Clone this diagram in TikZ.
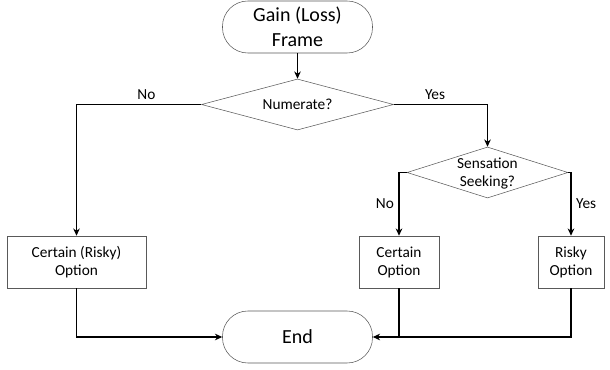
\documentclass[tikz,border=0pt]{standalone}
\usepackage{fontspec}
\setmainfont{Carlito}
\usetikzlibrary{shapes.geometric}
\usetikzlibrary{arrows.meta}

\begin{document}
\begin{tikzpicture}[x=0.75pt,y=-0.75pt,
  every node/.style={font=\fontsize{11.5}{13.5}\selectfont},
  term/.style={draw=black!65,rectangle,rounded corners=19pt,minimum width=112.5pt,minimum height=39pt,align=center,font=\fontsize{15}{18.5}\selectfont},
  decision/.style={draw=black!65,diamond,inner sep=0pt,minimum width=#1,minimum height=38.25pt},
  option/.style={draw=black!65,rectangle,minimum height=39pt,align=center},
  line/.style={draw,line width=1.1pt,-{Stealth[length=5.5pt,width=5pt]}}]
  \useasboundingbox (0,0) rectangle (610,370);
  % boxes
  \node[term] (start) at (297.5,27) {Gain (Loss)\\Frame};
  \node[decision=144pt] (num) at (297.5,104.5) {};
  \node (numtext) at (num) {Numerate?};
  \node[decision=120.75pt] (sens) at (487.5,172.5) {};
  \node[align=center] (senstext) at (487.5,174) {Sensation\\Seeking?};
  \node[option,minimum width=104.25pt] (both) at (76.5,262) {Certain (Risky)\\Option};
  \node[option,minimum width=60pt] (certain) at (399,262) {Certain\\Option};
  \node[option,minimum width=49.5pt] (risky) at (571,262) {Risky\\Option};
  \node[term] (end) at (297.5,337) {End};
  % arrows
  \draw[line] (start) -- (num);
  \draw[line] (num.west) -| node[pos=0.22,above] (lno) {No} (both.north);
  \draw[line] (num.east) -| node[pos=0.22,above] (lyes) {Yes} (sens.north);
  \draw[line] (sens.west) -| node[pos=0.75,left] (sno) {No} (certain.north);
  \draw[line] (sens.east) -| node[pos=0.75,right] (syes) {Yes} (risky.north);
  \draw[line] (both.south) |- (end.west);
  \draw[line] (risky.south) |- (end.east);
  \draw[line width=1.1pt] (certain.south) -- (certain.south |- end.east);
\end{tikzpicture}
\end{document}
